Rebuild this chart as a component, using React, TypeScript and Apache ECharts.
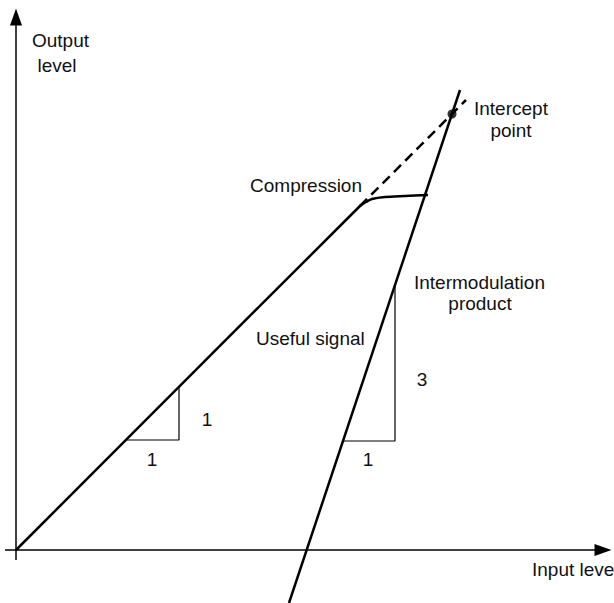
import React, { useEffect, useRef } from "react";
import * as echarts from "echarts";

// Data in "level" units: origin at the axes crossing
const usefulSignal: [number, number][] = [
  [0, 0], [344, 344], [350, 348], [356, 351], [369, 353], [389, 354], [412, 355],
];
const extrapolation: [number, number][] = [[344, 344], [450, 450]];
const intermodProduct: [number, number][] = [[273, -53], [444, 460]];
const interceptPoint: [number, number][] = [[436, 436]];
const slopeTriangle1: [number, number][] = [[110, 110], [163, 110], [163, 163]];
const slopeTriangle3: [number, number][] = [[327, 109], [379, 109], [379, 265]];

const FONT = '19px "Liberation Sans", Arial, sans-serif';

type Lbl = { text: string; x: number; y: number; align: "left" | "center" | "right" };
const labels: Lbl[] = [
  { text: "Output", x: 32, y: 40.5, align: "left" },
  { text: "level", x: 57, y: 65.5, align: "center" },
  { text: "Intercept", x: 474, y: 108.5, align: "left" },
  { text: "point", x: 511, y: 130.5, align: "center" },
  { text: "Compression", x: 362, y: 185.5, align: "right" },
  { text: "Intermodulation", x: 414, y: 282.5, align: "left" },
  { text: "product", x: 480, y: 303.5, align: "center" },
  { text: "Useful signal", x: 256, y: 338.5, align: "left" },
  { text: "1", x: 207, y: 419, align: "center" },
  { text: "1", x: 152, y: 459, align: "center" },
  { text: "3", x: 422, y: 379, align: "center" },
  { text: "1", x: 368, y: 459, align: "center" },
  { text: "Input level", x: 532, y: 569.5, align: "left" },
];

export default function App() {
  const ref = useRef<HTMLDivElement>(null);
  useEffect(() => {
    if (!ref.current) return;
    const chart = echarts.init(ref.current, null, { renderer: "svg" });
    const black = "#000";
    chart.setOption({
      animation: false,
      backgroundColor: "#fff",
      grid: { left: 0, right: 0, top: 0, bottom: 0 },
      xAxis: { type: "value", min: -16, max: 598, show: false },
      yAxis: { type: "value", min: -53, max: 550, show: false },
      series: [
        {
          name: "Axes",
          type: "line",
          data: [],
          markLine: {
            silent: true,
            symbol: ["none", "triangle"],
            symbolSize: [12, 17],
            label: { show: false },
            lineStyle: { color: black, width: 1.5, type: "solid" },
            data: [
              [{ coord: [-11, 0] }, { coord: [587, 0] }],
              [{ coord: [0, -10] }, { coord: [0, 533] }],
            ],
          },
        },
        {
          name: "Useful signal",
          type: "line",
          data: usefulSignal,
          symbol: "none",
          smooth: 0.3,
          lineStyle: { color: black, width: 2.5 },
        },
        {
          name: "Extrapolation",
          type: "line",
          data: extrapolation,
          symbol: "none",
          lineStyle: { color: black, width: 2.5, type: [10, 6] },
        },
        {
          name: "Intermodulation product",
          type: "line",
          data: intermodProduct,
          symbol: "none",
          lineStyle: { color: black, width: 2.5 },
        },
        {
          name: "Slope 1",
          type: "line",
          data: slopeTriangle1,
          symbol: "none",
          lineStyle: { color: black, width: 1.2 },
        },
        {
          name: "Slope 3",
          type: "line",
          data: slopeTriangle3,
          symbol: "none",
          lineStyle: { color: black, width: 1.2 },
        },
        {
          name: "Intercept point",
          type: "scatter",
          data: interceptPoint,
          symbol: "circle",
          symbolSize: 9,
          itemStyle: { color: black },
        },
      ],
      graphic: labels.map((l) => ({
        type: "text",
        x: l.x,
        y: l.y,
        silent: true,
        style: {
          text: l.text,
          font: FONT,
          fill: "#111",
          align: l.align,
          verticalAlign: "middle",
          textAlign: l.align,
          textVerticalAlign: "middle",
        },
      })),
    });
    return () => chart.dispose();
  }, []);
  return (
    <div
      ref={ref}
      style={{ position: "fixed", left: 0, top: 0, width: 614, height: 603 }}
    />
  );
}
